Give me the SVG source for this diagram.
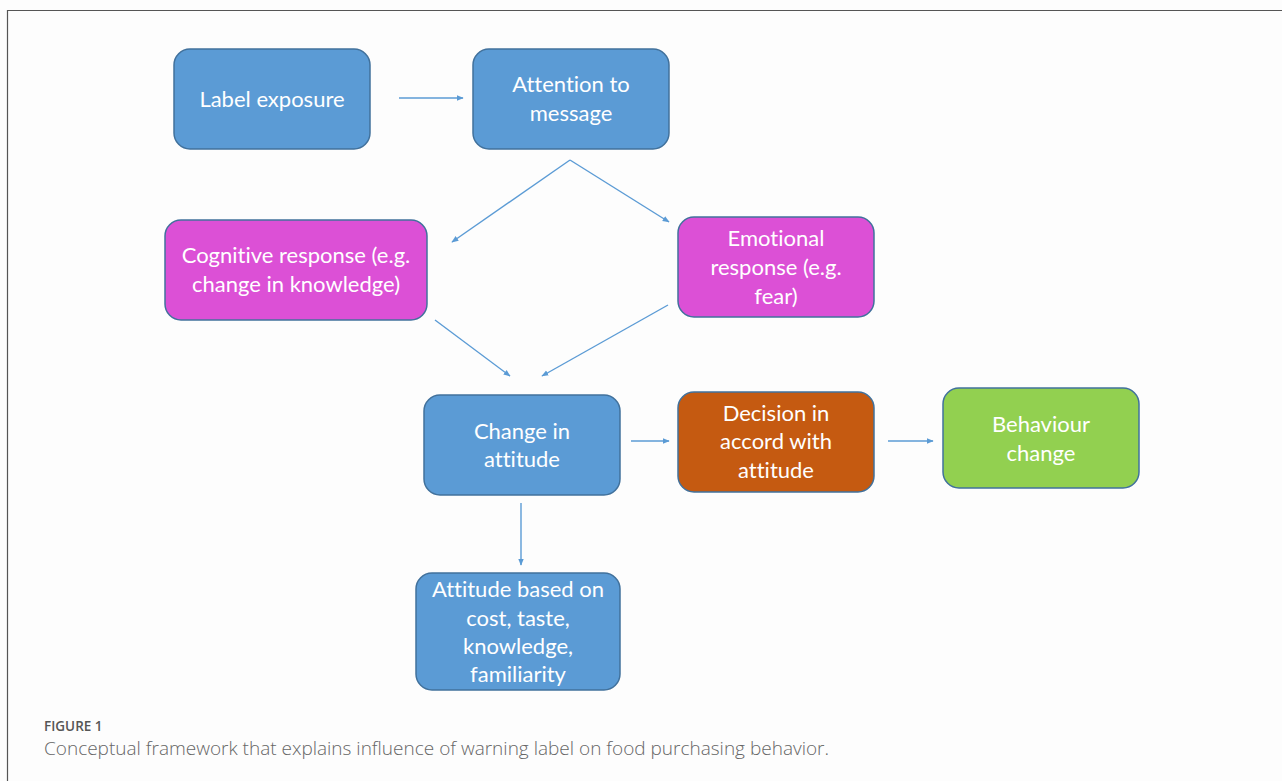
<svg xmlns="http://www.w3.org/2000/svg" width="1282" height="781" viewBox="0 0 1282 781">
<defs>
<style>
.box{stroke-width:1.5}
.blue{fill:#5B9BD5;stroke:#41719C}
.mag{fill:#DC50D6;stroke:#41719C}
.org{fill:#C55A11;stroke:#41719C}
.grn{fill:#92D050;stroke:#41719C}
.t{font-family:Lato,"Open Sans","Liberation Sans",sans-serif;font-size:22px;fill:#fff;text-anchor:middle;font-variant-ligatures:none}
.c{stroke:#5B9BD5;stroke-width:1.4;fill:none;marker-end:url(#ah)}
</style>
<marker id="ah" viewBox="0 0 10 10" refX="9" refY="5" markerWidth="7" markerHeight="7" markerUnits="userSpaceOnUse" orient="auto">
<path d="M0,1 L10,5 L0,9 z" fill="#5B9BD5"/>
</marker>
</defs>
<rect x="0" y="0" width="1282" height="781" fill="#fdfdfd"/>
<path d="M7.5,781 V10.5 H1282" fill="none" stroke="#555" stroke-width="1.2"/>
<g id="connectors">
<line class="c" x1="399" y1="98" x2="463" y2="98"/>
<line class="c" x1="570" y1="160" x2="452" y2="242"/>
<line class="c" x1="570" y1="160" x2="669" y2="222"/>
<line class="c" x1="435" y1="320" x2="510" y2="376"/>
<line class="c" x1="668" y1="305" x2="542" y2="376"/>
<line class="c" x1="631" y1="441" x2="669" y2="441"/>
<line class="c" x1="888" y1="441" x2="933" y2="441"/>
<line class="c" x1="521" y1="503" x2="521" y2="565"/>
</g>
<g id="label-exposure"><rect class="box blue" x="174" y="49" width="196" height="100" rx="16"/><text class="t" x="272" y="107">Label exposure</text></g>
<g id="attention"><rect class="box blue" x="473" y="49" width="196" height="100" rx="16"/><text class="t" x="571" y="92">Attention to</text><text class="t" x="571" y="121">message</text></g>
<g id="cognitive"><rect class="box mag" x="165" y="220" width="262" height="100" rx="16"/><text class="t" x="296" y="263">Cognitive response (e.g.</text><text class="t" x="296" y="292">change in knowledge)</text></g>
<g id="emotional"><rect class="box mag" x="678" y="217" width="196" height="100" rx="16"/><text class="t" x="776" y="246">Emotional</text><text class="t" x="776" y="275">response (e.g.</text><text class="t" x="776" y="304">fear)</text></g>
<g id="change-attitude"><rect class="box blue" x="424" y="395" width="196" height="100" rx="16"/><text class="t" x="522" y="439">Change in</text><text class="t" x="522" y="467">attitude</text></g>
<g id="decision"><rect class="box org" x="678" y="392" width="196" height="100" rx="16"/><text class="t" x="776" y="421">Decision in</text><text class="t" x="776" y="449">accord with</text><text class="t" x="776" y="478">attitude</text></g>
<g id="behaviour"><rect class="box grn" x="943" y="388" width="196" height="100" rx="16"/><text class="t" x="1041" y="432">Behaviour</text><text class="t" x="1041" y="461">change</text></g>
<g id="attitude-based"><rect class="box blue" x="416" y="573" width="204" height="117" rx="16"/><text class="t" x="518" y="597">Attitude based on</text><text class="t" x="518" y="626">cost, taste,</text><text class="t" x="518" y="654">knowledge,</text><text class="t" x="518" y="682">familiarity</text></g>
<g id="caption">
<text x="44" y="731" font-family="'Open Sans','Liberation Sans',sans-serif" font-size="13.5" font-weight="600" fill="#555">FIGURE 1</text>
<text x="44" y="755" font-family="'Open Sans','Liberation Sans',sans-serif" font-size="19" font-weight="300" fill="#666">Conceptual framework that explains influence of warning label on food purchasing behavior.</text>
</g>
</svg>
